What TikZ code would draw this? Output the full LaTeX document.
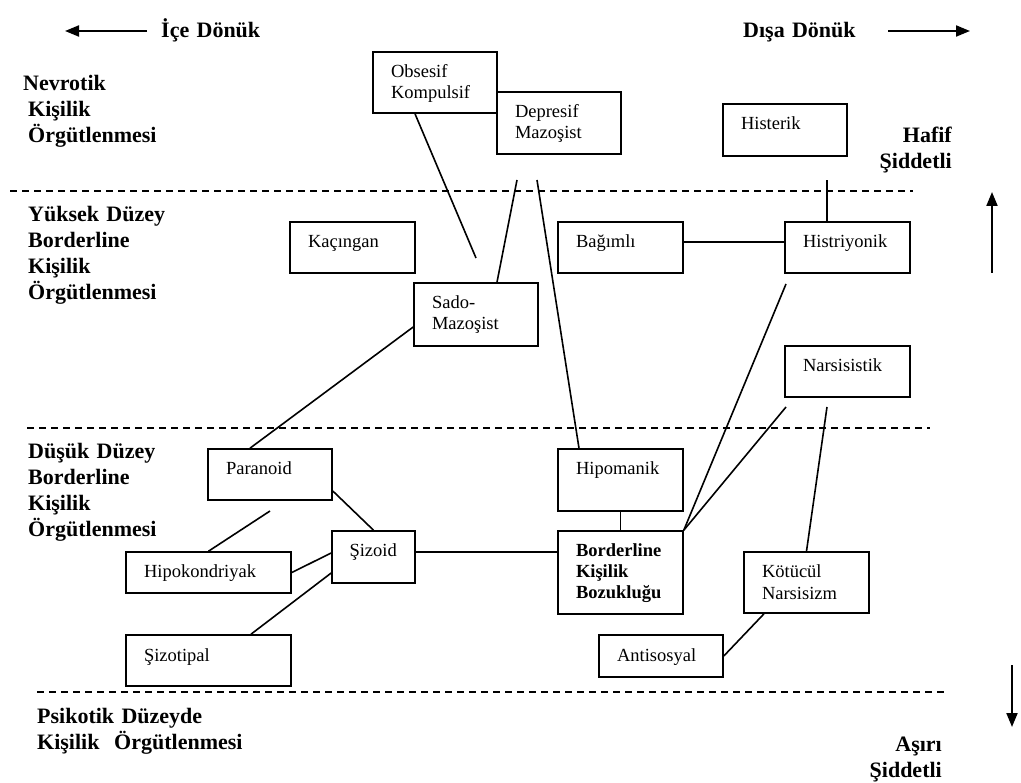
\documentclass[tikz,border=0pt]{standalone}
\usepackage{fontspec}
\setmainfont{Liberation Serif}
\usetikzlibrary{arrows.meta}

\tikzset{
    box/.style 2 args={draw, line width=1.6pt, align=left, inner xsep=18pt, inner ysep=0pt,
        text width=#1, text height=26pt, text depth=#2, font=\fontsize{18.5}{21}\selectfont},
    level/.style={anchor=base west, align=left, text width=230pt, inner sep=0pt,
        font=\bfseries\fontsize{22}{26}\selectfont},
    link/.style={line width=1.6pt},
    sep/.style={line width=1.8pt, dash pattern=on 7pt off 5pt},
    dir/.style={line width=2pt, -{Triangle[length=14pt,width=11pt]}}
}

\begin{document}
\begin{tikzpicture}[x=1pt, y=-1pt]
    \useasboundingbox (0,0) rectangle (1021,783);
    % Direction
    \node[level] (ice) at (161,38) {İçe Dönük};
    \node[level] (disa) at (743,38) {Dışa Dönük};
    \draw[dir] (147,31) -- (65,31);
    \draw[dir] (888,31) -- (970,31);
    % Levels
    \node[level] (nevrotik) at (23,91) {Nevrotik\\\hspace*{5pt}Kişilik\\\hspace*{5pt}Örgütlenmesi};
    \node[level] (yuksek) at (28,222) {Yüksek Düzey\\Borderline\\Kişilik\\Örgütlenmesi};
    \node[level] (dusuk) at (28,459) {Düşük Düzey\\Borderline\\Kişilik\\Örgütlenmesi};
    \node[level] (psikotik) at (37,723) {Psikotik Düzeyde\\Kişilik\ \ Örgütlenmesi};
    \node[level, anchor=base east, align=right, text width=100pt] (hafif) at (952,143) {Hafif\\Şiddetli};
    \node[level, anchor=base east, align=right, text width=100pt] (asiri) at (942,751) {Aşırı\\Şiddetli};
    % Separators and severity
    \draw[sep] (10,191) -- (913,191);
    \draw[sep] (27,428) -- (930,428);
    \draw[sep] (37,692) -- (945,692);
    \draw[dir] (992,273) -- (992,192);
    \draw[dir] (1012,665) -- (1012,727);
    % Boxes
    \node[box={88pt}{35pt}] (obs) at (435,82.5) {Obsesif\\Kompulsif};
    \node[box={88pt}{36pt}] (dep) at (559,123) {Depresif\\Mazoşist};
    \node[box={88pt}{26pt}] (hister) at (785,130) {Histerik};
    \node[box={89pt}{25pt}] (kac) at (352.5,247.5) {Kaçıngan};
    \node[box={89pt}{25pt}] (bag) at (620.5,247.5) {Bağımlı};
    \node[box={89pt}{25pt}] (histr) at (847.5,247.5) {Histriyonik};
    \node[box={88pt}{37pt}] (sado) at (476,314.5) {Sado-\\Mazoşist};
    \node[box={89pt}{25pt}] (nars) at (847.5,371.5) {Narsisistik};
    \node[box={88pt}{25pt}] (par) at (270,474.5) {Paranoid};
    \node[box={89pt}{36pt}] (hipo) at (620.5,480) {Hipomanik};
    \node[box={48pt}{26pt}, inner xsep=17.5pt] (siz) at (373.5,557) {Şizoid};
    \node[box={89pt}{57pt}, font=\bfseries\fontsize{18.5}{21}\selectfont] (bord) at (620.5,572.5) {Borderline\\Kişilik\\Bozukluğu};
    \node[box={129pt}{15pt}] (hipok) at (208.5,572.5) {Hipokondriyak};
    \node[box={89pt}{35pt}] (kot) at (806.5,582.5) {Kötücül\\Narsisizm};
    \node[box={129pt}{25pt}] (sizt) at (208.5,660.5) {Şizotipal};
    \node[box={88pt}{16pt}] (anti) at (661,656) {Antisosyal};
    % Free ends
    \coordinate (f1) at (476,258);
    \coordinate (f2) at (517,180);
    \coordinate (f3) at (537,180);
    \coordinate (f4) at (827,180);
    \coordinate (f5) at (786,284);
    \coordinate (f6) at (786,407);
    \coordinate (f7) at (827,407);
    \coordinate (f8) at (270,511);
    % Links
    \draw[link] ([xshift=-20pt]obs.south) -- (f1);
    \draw[link] ([xshift=21pt]sado.north) -- (f2);
    \draw[link] (f3) -- ([xshift=-41.5pt]hipo.north);
    \draw[link] ([xshift=-20.5pt]histr.north) -- (f4);
    \draw[link] ([yshift=5.5pt]bag.east) -- ([yshift=5.5pt]histr.west);
    \draw[link] (f5) -- (bord.north east);
    \draw[link] (f6) -- (bord.north east);
    \draw[link] (f7) -- (kot.north);
    \draw[link] ([yshift=-12.5pt]sado.west) -- ([xshift=-20pt]par.north);
    \draw[link] ([yshift=-16.5pt]par.east) -- (siz.north);
    \draw[link] (f8) -- (hipok.north);
    \draw[link] (hipok.east) -- ([yshift=4pt]siz.west);
    \draw[link] ([xshift=42.5pt]sizt.north) -- ([yshift=-16pt]siz.west);
    \draw[link] ([yshift=5pt]siz.east) -- ([yshift=20.5pt]bord.west);
    \draw[link] (hipo.south) -- (bord.north);
    \draw[link] (anti.east) -- ([xshift=-42.5pt]kot.south);
\end{tikzpicture}
\end{document}
